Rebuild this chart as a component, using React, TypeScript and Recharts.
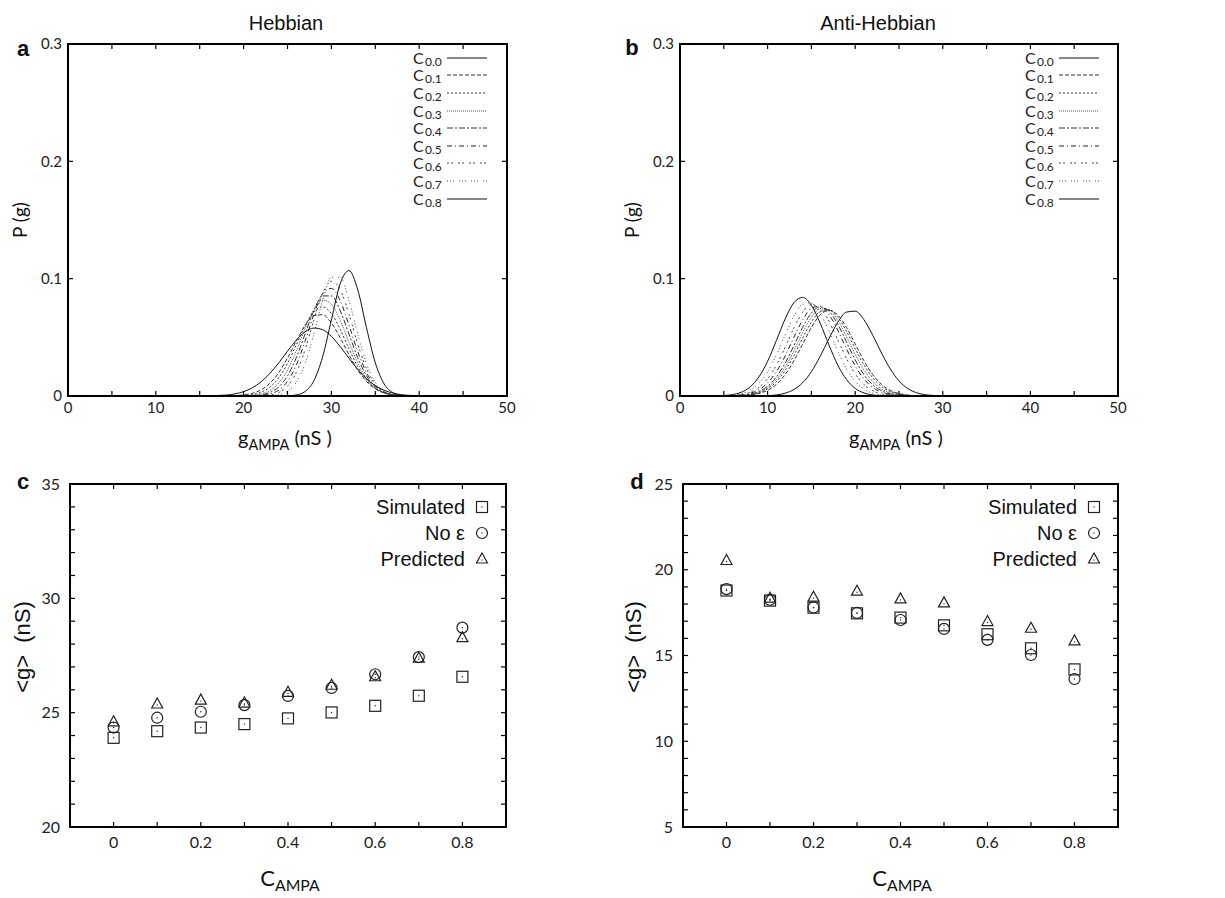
import React from 'react';
import { LineChart, Line, XAxis, YAxis, ScatterChart, Scatter, Legend } from 'recharts';

// ---------------- data: panel a (Hebbian) ----------------
const hebG = [14, 15, 16, 17, 18, 19, 20, 21, 22, 23, 24, 25, 26, 27, 28, 29, 30, 31, 32, 33, 34, 35, 36, 37, 38, 39, 40, 41, 42];
const hebC00 = [0, 0.0001, 0.0001, 0.0004, 0.0008, 0.0018, 0.0037, 0.007, 0.0121, 0.0193, 0.0282, 0.0382, 0.0476, 0.0547, 0.0579, 0.0565, 0.0508, 0.0421, 0.0322, 0.0227, 0.0147, 0.0088, 0.0049, 0.0025, 0.0011, 0.0005, 0.0002, 0.0001, 0];
const hebC01 = [0, 0, 0, 0, 0.0001, 0.0003, 0.0009, 0.0023, 0.0053, 0.0109, 0.0199, 0.0324, 0.0468, 0.0601, 0.0685, 0.0693, 0.0623, 0.0497, 0.0352, 0.0221, 0.0124, 0.0061, 0.0027, 0.0011, 0.0004, 0.0001, 0, 0, 0];
const hebC02 = [0, 0, 0, 0, 0, 0.0001, 0.0004, 0.0012, 0.0033, 0.0076, 0.0155, 0.0278, 0.0436, 0.0599, 0.072, 0.076, 0.0702, 0.0568, 0.0403, 0.025, 0.0136, 0.0065, 0.0027, 0.001, 0.0003, 0.0001, 0, 0, 0];
const hebC03 = [0, 0, 0, 0, 0, 0, 0.0002, 0.0006, 0.0018, 0.0048, 0.0111, 0.0222, 0.0385, 0.0573, 0.0737, 0.0818, 0.0782, 0.0645, 0.0459, 0.0282, 0.0149, 0.0068, 0.0027, 0.0009, 0.0003, 0.0001, 0, 0, 0];
const hebC04 = [0, 0, 0, 0, 0, 0, 0.0001, 0.0003, 0.001, 0.003, 0.0077, 0.0172, 0.0326, 0.0528, 0.0727, 0.0853, 0.0853, 0.0727, 0.0528, 0.0326, 0.0172, 0.0077, 0.003, 0.001, 0.0003, 0.0001, 0, 0, 0];
const hebC05 = [0, 0, 0, 0, 0, 0, 0, 0.0001, 0.0005, 0.0017, 0.005, 0.0125, 0.0263, 0.0466, 0.0695, 0.087, 0.0917, 0.0812, 0.0604, 0.0378, 0.0199, 0.0088, 0.0033, 0.001, 0.0003, 0.0001, 0, 0, 0];
const hebC06 = [0, 0, 0, 0, 0, 0, 0, 0, 0.0002, 0.0008, 0.0029, 0.0084, 0.02, 0.0395, 0.0646, 0.0874, 0.0979, 0.0908, 0.0697, 0.0443, 0.0233, 0.0101, 0.0037, 0.0011, 0.0003, 0.0001, 0, 0, 0];
const hebC07 = [0, 0, 0, 0, 0, 0, 0, 0, 0, 0.0002, 0.0011, 0.004, 0.0116, 0.0276, 0.0529, 0.0815, 0.1012, 0.1012, 0.0815, 0.0529, 0.0276, 0.0116, 0.004, 0.0011, 0.0002, 0, 0, 0, 0];
const hebC08 = [0, 0, 0, 0, 0, 0, 0, 0, 0, 0, 0, 0.0001, 0.0009, 0.0038, 0.013, 0.0334, 0.0649, 0.0957, 0.1069, 0.0905, 0.0581, 0.0283, 0.0104, 0.0029, 0.0006, 0.0001, 0, 0, 0];

// ---------------- data: panel b (Anti-Hebbian) ----------------
const antiG = [4, 5, 6, 7, 8, 9, 10, 11, 12, 13, 14, 15, 16, 17, 18, 19, 20, 21, 22, 23, 24, 25, 26, 27, 28, 29, 30];
const antiC00 = [0, 0, 0, 0, 0, 0.0001, 0.0003, 0.0009, 0.0024, 0.0055, 0.0113, 0.0207, 0.0338, 0.0488, 0.0627, 0.0715, 0.0723, 0.065, 0.0518, 0.0367, 0.0231, 0.0129, 0.0064, 0.0028, 0.0011, 0.0004, 0.0001];
const antiC01 = [0, 0, 0, 0.0003, 0.0008, 0.0021, 0.0048, 0.0099, 0.0182, 0.03, 0.0443, 0.0585, 0.0691, 0.073, 0.0691, 0.0585, 0.0443, 0.03, 0.0182, 0.0099, 0.0048, 0.0021, 0.0008, 0.0003, 0.0001, 0, 0];
const antiC02 = [0, 0, 0.0001, 0.0004, 0.0011, 0.0027, 0.0061, 0.0122, 0.0217, 0.0346, 0.0494, 0.063, 0.072, 0.0736, 0.0674, 0.0552, 0.0404, 0.0265, 0.0155, 0.0082, 0.0038, 0.0016, 0.0006, 0.0002, 0.0001, 0, 0];
const antiC03 = [0, 0, 0.0001, 0.0005, 0.0013, 0.0032, 0.0071, 0.014, 0.0246, 0.0386, 0.0539, 0.067, 0.0743, 0.0735, 0.0647, 0.0509, 0.0356, 0.0222, 0.0124, 0.0061, 0.0027, 0.0011, 0.0004, 0.0001, 0, 0, 0];
const antiC04 = [0, 0, 0.0002, 0.0006, 0.0015, 0.0038, 0.0083, 0.0162, 0.028, 0.0429, 0.0585, 0.0707, 0.076, 0.0724, 0.0613, 0.0461, 0.0308, 0.0182, 0.0096, 0.0045, 0.0019, 0.0007, 0.0002, 0.0001, 0, 0, 0];
const antiC05 = [0, 0, 0.0003, 0.0009, 0.0023, 0.0053, 0.0112, 0.0207, 0.0341, 0.0499, 0.0648, 0.0748, 0.0766, 0.0696, 0.0562, 0.0403, 0.0256, 0.0145, 0.0073, 0.0032, 0.0013, 0.0005, 0.0001, 0, 0, 0, 0];
const antiC06 = [0, 0.0001, 0.0004, 0.0012, 0.0032, 0.0073, 0.0147, 0.0263, 0.0415, 0.0579, 0.0714, 0.0778, 0.075, 0.0639, 0.0481, 0.0321, 0.0189, 0.0098, 0.0045, 0.0018, 0.0007, 0.0002, 0.0001, 0, 0, 0, 0];
const antiC07 = [0, 0.0002, 0.0007, 0.002, 0.005, 0.0108, 0.0207, 0.035, 0.052, 0.0679, 0.0782, 0.0792, 0.0706, 0.0554, 0.0383, 0.0233, 0.0125, 0.0059, 0.0024, 0.0009, 0.0003, 0.0001, 0, 0, 0, 0, 0];
const antiC08 = [0.0001, 0.0004, 0.0012, 0.0032, 0.0077, 0.0162, 0.0296, 0.0472, 0.0656, 0.0795, 0.084, 0.0773, 0.0621, 0.0435, 0.0265, 0.0141, 0.0065, 0.0026, 0.0009, 0.0003, 0.0001, 0, 0, 0, 0, 0, 0];

const corrLabels = ['0.0', '0.1', '0.2', '0.3', '0.4', '0.5', '0.6', '0.7', '0.8'];

// ---------------- data: panels c, d ----------------
const cAmpa = [0, 0.1, 0.2, 0.3, 0.4, 0.5, 0.6, 0.7, 0.8];
const hebSimulated = [23.9, 24.19, 24.35, 24.5, 24.75, 25.01, 25.3, 25.74, 26.57];
const hebNoEps = [24.35, 24.78, 25.04, 25.33, 25.73, 26.08, 26.68, 27.43, 28.72];
const hebPredicted = [24.6, 25.38, 25.55, 25.42, 25.89, 26.2, 26.57, 27.38, 28.28];
const antiSimulated = [18.79, 18.2, 17.79, 17.46, 17.21, 16.76, 16.24, 15.42, 14.19];
const antiNoEps = [18.87, 18.25, 17.8, 17.48, 17.07, 16.55, 15.91, 15.03, 13.63];
const antiPredicted = [20.54, 18.34, 18.4, 18.75, 18.3, 18.07, 16.98, 16.59, 15.85];
const scatterNames = ['Simulated', 'No \u03b5', 'Predicted'];

// ---------------- ticks ----------------
const gTicks = [0, 5, 10, 15, 20, 25, 30, 35, 40, 45, 50];
const pTicks = [0, 0.1, 0.2, 0.3];
const cTicks = [0, 0.1, 0.2, 0.3, 0.4, 0.5, 0.6, 0.7, 0.8];
const hebYTicks = [20, 21, 22, 23, 24, 25, 26, 27, 28, 29, 30, 31, 32, 33, 34, 35];
const antiYTicks = [5, 6, 7, 8, 9, 10, 11, 12, 13, 14, 15, 16, 17, 18, 19, 20, 21, 22, 23, 24, 25];

// ---------------- build tables ----------------
const buildRows = (xs: number[], series: number[][]) =>
  xs.map((g, i) => {
    const row: Record<string, number> = { g };
    series.forEach((s, k) => {
      row['c' + k] = s[i];
    });
    return row;
  });
const hebRows = buildRows(hebG, [hebC00, hebC01, hebC02, hebC03, hebC04, hebC05, hebC06, hebC07, hebC08]);
const antiRows = buildRows(antiG, [antiC00, antiC01, antiC02, antiC03, antiC04, antiC05, antiC06, antiC07, antiC08]);
const toPts = (ys: number[]) => cAmpa.map((c, i) => ({ c, v: ys[i] }));

// ---------------- styles ----------------
const dashes = ['', '4 2', '2 2', '1 1', '6 2 2 2', '5 3 1 3', '2 2 2 5', '1 2 1 2 1 5', ''];
const lineColors = ['#111', '#333', '#333', '#555', '#333', '#222', '#444', '#444', '#111'];
const GEO = "'URW Gothic', 'Century Gothic', Lato, 'DejaVu Sans', sans-serif";
const ARIAL = "'Liberation Sans', Arial, Helvetica, sans-serif";
const axisLineStyle = { stroke: '#000', strokeWidth: 2 };
const TICK_LEN = 5;

const fmtG = (v: number) => (v % 10 === 0 ? String(v) : '');
const fmtP = (v: number) => (v === 0 ? '0' : v.toFixed(1));
const fmtC = (v: number) => (Math.round(v * 10) % 2 === 0 ? (v === 0 ? '0' : v.toFixed(1)) : '');
const fmtY5 = (v: number) => (v % 5 === 0 ? String(v) : '');

// tick labels drawn by the axes
const makeXTick = (fmt: (v: number) => string, fs: number) => (p: any) => {
  const label = fmt(p.payload.value);
  return label === '' ? <g /> : (
    <text x={p.x} y={p.y} dy="0.71em" textAnchor="middle" fontSize={fs} fontFamily={GEO} fill="#222">{label}</text>
  );
};
const makeYTick = (fmt: (v: number) => string, fs: number) => (p: any) => {
  const label = fmt(p.payload.value);
  return label === '' ? <g /> : (
    <text x={p.x} y={p.y} dy="0.355em" textAnchor="end" fontSize={fs} fontFamily={GEO} fill="#222">{label}</text>
  );
};

// gnuplot-style frame: border plus inward tick marks on all four sides (an SVG overlay)
const Frame = ({ ox, oy, box, xDomain, xTicks, yDomain, yTicks }: any) => {
  const w = box.right - box.left;
  const h = box.bottom - box.top;
  const px = (v: number) => ((v - xDomain[0]) / (xDomain[1] - xDomain[0])) * w;
  const py = (v: number) => h - ((v - yDomain[0]) / (yDomain[1] - yDomain[0])) * h;
  return (
    <svg width={w + 4} height={h + 4}
      style={{ position: 'absolute', left: ox + box.left - 2, top: oy + box.top - 2, pointerEvents: 'none', overflow: 'visible' }}>
      <g transform="translate(2,2)">
        <rect x={0} y={0} width={w} height={h} fill="none" stroke="#000" strokeWidth={2} />
        {xTicks.map((v: number) => (
          <g key={'x' + v}>
            <line x1={px(v)} y1={0} x2={px(v)} y2={TICK_LEN} stroke="#000" strokeWidth={1.2} />
            <line x1={px(v)} y1={h} x2={px(v)} y2={h - TICK_LEN} stroke="#000" strokeWidth={1.2} />
          </g>
        ))}
        {yTicks.map((v: number) => (
          <g key={'y' + v}>
            <line x1={0} y1={py(v)} x2={TICK_LEN} y2={py(v)} stroke="#000" strokeWidth={1.2} />
            <line x1={w} y1={py(v)} x2={w - TICK_LEN} y2={py(v)} stroke="#000" strokeWidth={1.2} />
          </g>
        ))}
      </g>
    </svg>
  );
};

// ---------------- legends ----------------
const CorrLegend = () => (
  <div style={{ width: 90 }}>
    {corrLabels.map((lab, i) => (
      <div key={lab} style={{ height: 17.6, display: 'flex', alignItems: 'center' }}>
        <span style={{ fontFamily: GEO, fontSize: 16, color: '#222', lineHeight: '16px', width: 12, display: 'inline-block' }}>C</span>
        <span style={{ fontFamily: GEO, fontSize: 12, lineHeight: '12px', color: '#222', position: 'relative', top: 4, width: 21, display: 'inline-block' }}>{lab}</span>
        <svg width={42} height={6}>
          <line x1={1} y1={3} x2={41} y2={3} stroke={lineColors[i]} strokeWidth={1} strokeDasharray={dashes[i] || undefined} />
        </svg>
      </div>
    ))}
  </div>
);

const SquareMark = (p: any) => (
  <g>
    <rect x={p.cx - 5.5} y={p.cy - 5.5} width={11} height={11} fill="none" stroke="#222" strokeWidth={1.2} />
    <circle cx={p.cx} cy={p.cy} r={0.7} fill="#222" />
  </g>
);
const CircleMark = (p: any) => (
  <g>
    <circle cx={p.cx} cy={p.cy} r={5.5} fill="none" stroke="#222" strokeWidth={1.2} />
    <circle cx={p.cx} cy={p.cy} r={0.7} fill="#222" />
  </g>
);
const TriangleMark = (p: any) => (
  <g>
    <polygon points={`${p.cx},${p.cy - 6} ${p.cx - 5.5},${p.cy + 4} ${p.cx + 5.5},${p.cy + 4}`} fill="none" stroke="#222" strokeWidth={1.2} />
    <circle cx={p.cx} cy={p.cy + 1} r={0.7} fill="#222" />
  </g>
);
const markers = [SquareMark, CircleMark, TriangleMark];

const ScatterLegend = () => (
  <div style={{ width: 200 }}>
    {scatterNames.map((n, i) => {
      const M = markers[i];
      return (
        <div key={n} style={{ height: 26, display: 'flex', alignItems: 'center', justifyContent: 'flex-end' }}>
          <span style={{ fontFamily: ARIAL, fontSize: 20, color: '#111' }}>{n}</span>
          <svg width={30} height={16}>
            <M cx={17} cy={8} />
          </svg>
        </div>
      );
    })}
  </div>
);

// ---------------- panels ----------------
const DistPanel = ({ rows, left, width, box }: any) => (
  <>
    <div style={{ position: 'absolute', left, top: 0 }}>
      <LineChart width={width} height={460} data={rows}
        margin={{ top: box.top, right: width - box.right, left: box.left - 60, bottom: 460 - box.bottom - 30 }}>
        <XAxis type="number" dataKey="g" domain={[0, 50]} ticks={gTicks} interval={0} allowDataOverflow
          tickSize={0} tickMargin={6} height={30} axisLine={axisLineStyle} tickLine={false} tick={makeXTick(fmtG, 15)} />
        <YAxis type="number" domain={[0, 0.3]} ticks={pTicks} interval={0} allowDataOverflow
          tickSize={0} tickMargin={6} width={60} axisLine={axisLineStyle} tickLine={false} tick={makeYTick(fmtP, 15)} />
        {corrLabels.map((lab, k) => (
          <Line key={lab} type="monotone" dataKey={'c' + k} stroke={lineColors[k]} strokeWidth={1}
            strokeDasharray={dashes[k] || undefined} dot={false} activeDot={false} isAnimationActive={false} />
        ))}
        <Legend layout="vertical" align="center" verticalAlign="middle" content={() => <CorrLegend />}
          wrapperStyle={{ left: 413, top: 49, width: 90, height: 160 }} />
      </LineChart>
    </div>
    <Frame ox={left} oy={0} box={box} xDomain={[0, 50]} xTicks={gTicks} yDomain={[0, 0.3]} yTicks={pTicks} />
  </>
);

const MeanPanel = ({ left, width, box, domain, yTicks, series }: any) => (
  <>
    <div style={{ position: 'absolute', left, top: 440 }}>
      <ScatterChart width={width} height={458}
        margin={{ top: box.top, right: width - box.right, left: box.left - 60, bottom: 458 - box.bottom - 30 }}>
        <XAxis type="number" dataKey="c" domain={[-0.1, 0.9]} ticks={cTicks} interval={0} allowDataOverflow
          tickSize={0} tickMargin={10} height={30} axisLine={axisLineStyle} tickLine={false} tick={makeXTick(fmtC, 16)} />
        <YAxis type="number" dataKey="v" domain={domain} ticks={yTicks} interval={0} allowDataOverflow
          tickSize={0} tickMargin={10} width={60} axisLine={axisLineStyle} tickLine={false} tick={makeYTick(fmtY5, 16)} />
        {series.map((s: number[], k: number) => {
          const M = markers[k];
          return (
            <Scatter key={k} name={scatterNames[k]} data={toPts(s)} isAnimationActive={false}
              shape={(p: any) => <M cx={p.cx} cy={p.cy} />} />
          );
        })}
        <Legend layout="vertical" align="center" verticalAlign="middle" content={() => <ScatterLegend />}
          wrapperStyle={{ left: box.right - 211, top: 54, width: 200, height: 80 }} />
      </ScatterChart>
    </div>
    <Frame ox={left} oy={440} box={box} xDomain={[-0.1, 0.9]} xTicks={cTicks} yDomain={domain} yTicks={yTicks} />
  </>
);

const T = ({ x, y, children, size = 20, font = ARIAL, weight = 400, rotate = 0 }: any) => (
  <div style={{
    position: 'absolute', left: x, top: y, transform: `translate(-50%, -50%) rotate(${rotate}deg)`,
    fontFamily: font, fontSize: size, fontWeight: weight, color: '#111', whiteSpace: 'nowrap', lineHeight: 1,
  }}>{children}</div>
);

const GLabel = () => (
  <span>g<sub style={{ fontSize: '0.72em', verticalAlign: '-0.35em' }}>AMPA</sub> (nS )</span>
);
const CLabel = () => (
  <span>C<sub style={{ fontSize: '0.72em', verticalAlign: '-0.35em' }}>AMPA</sub></span>
);

export default function App() {
  return (
    <div style={{ position: 'absolute', left: 0, top: 0, width: 1225, height: 898, background: '#fff', overflow: 'hidden' }}>
      <DistPanel rows={hebRows} left={0} width={612} box={{ top: 44, bottom: 396, left: 68, right: 507 }} />
      <DistPanel rows={antiRows} left={612} width={613} box={{ top: 44, bottom: 396, left: 68, right: 506 }} />
      <MeanPanel left={0} width={612} box={{ top: 44, bottom: 387, left: 70, right: 506 }} domain={[20, 35]} yTicks={hebYTicks}
        series={[hebSimulated, hebNoEps, hebPredicted]} />
      <MeanPanel left={612} width={613} box={{ top: 44, bottom: 387, left: 71, right: 506 }} domain={[5, 25]} yTicks={antiYTicks}
        series={[antiSimulated, antiNoEps, antiPredicted]} />

      <T x={286} y={23}>Hebbian</T>
      <T x={878} y={23}>Anti-Hebbian</T>
      <T x={23} y={49} size={22} weight={700}>a</T>
      <T x={632} y={48} size={22} weight={700}>b</T>
      <T x={23} y={482} size={22} weight={700}>c</T>
      <T x={637} y={482} size={22} weight={700}>d</T>

      <T x={19} y={220} size={19} font={GEO} rotate={-90}>P (g)</T>
      <T x={631} y={220} size={19} font={GEO} rotate={-90}>P (g)</T>
      <T x={285} y={440} size={20} font={GEO}><GLabel /></T>
      <T x={896} y={440} size={20} font={GEO}><GLabel /></T>

      <T x={23} y={647} size={22} rotate={-90}>{'<g>\u00a0\u00a0(nS)'}</T>
      <T x={634} y={647} size={22} rotate={-90}>{'<g>\u00a0\u00a0(nS)'}</T>
      <T x={290} y={880} size={22} font={GEO}><CLabel /></T>
      <T x={902} y={880} size={22} font={GEO}><CLabel /></T>
    </div>
  );
}
